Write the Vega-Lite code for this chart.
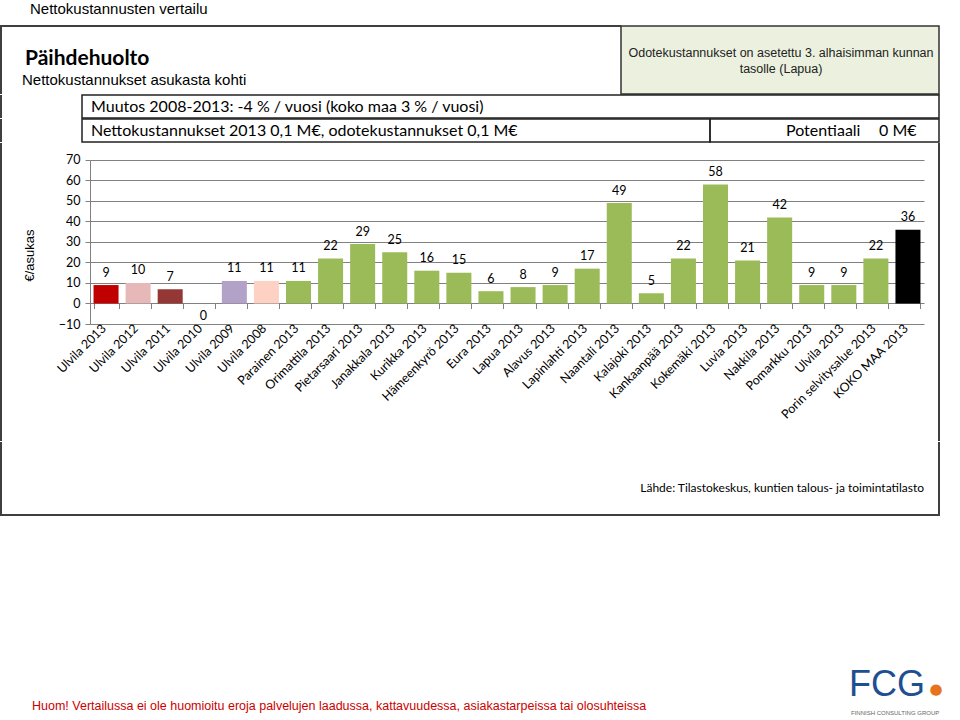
{
  "$schema": "https://vega.github.io/schema/vega-lite/v6.json",
  "background": "white",
  "padding": {"left": 0, "top": 2, "right": 0, "bottom": 0},
  "title": {"text": "Nettokustannusten vertailu", "anchor": "start", "dx": 30, "offset": -4, "baseline": "alphabetic", "font": "Liberation Sans", "fontSize": 15, "fontWeight": "normal", "color": "#000"},
  "config": {"view": {"stroke": null}, "font": "Lato"},
  "spacing": -5,
  "vconcat": [
    {
      "bounds": "flush", "spacing": 0,
      "hconcat": [
        {
          "width": 620, "height": 68,
          "view": {"stroke": "#3f3f3f", "strokeWidth": 2, "strokeDash": [620, 688, 68]},
          "data": {"values": [{"otsikko": "Päihdehuolto", "ala": "Nettokustannukset asukasta kohti"}]},
          "layer": [
            {"mark": {"type": "text", "align": "left", "baseline": "alphabetic", "dx": -286, "dy": 5, "font": "Lato", "fontSize": 21, "fontWeight": "bold", "color": "#000"}, "encoding": {"text": {"field": "otsikko"}}},
            {"mark": {"type": "text", "align": "left", "baseline": "alphabetic", "dx": -289, "dy": 25, "font": "Liberation Sans", "fontSize": 15, "color": "#000"}, "encoding": {"text": {"field": "ala"}}}
          ]
        },
        {
          "width": 318, "height": 68,
          "view": {"fill": "#ebf1de", "stroke": "#333333", "strokeWidth": 1.5},
          "data": {"values": [{"teksti": "Odotekustannukset on asetettu 3. alhaisimman kunnan\ntasolle (Lapua)"}]},
          "mark": {"type": "text", "align": "center", "baseline": "alphabetic", "lineBreak": "\n", "lineHeight": 16.5, "dx": 1, "dy": -3.5, "font": "Liberation Sans", "fontSize": 12.5, "color": "#222"},
          "encoding": {"text": {"field": "teksti"}}
        }
      ]
    },
    {
      "bounds": "flush", "spacing": 0,
      "hconcat": [
        {
          "width": 81, "height": 23,
          "view": {"stroke": "#3f3f3f", "strokeWidth": 2, "strokeDash": [0, 185, 23]},
          "data": {"values": [{}]},
          "mark": {"type": "text"},
          "encoding": {"text": {"value": ""}}
        },
        {
          "width": 857, "height": 23,
          "view": {"stroke": "#222", "strokeWidth": 1.5},
          "data": {"values": [{"teksti": "Muutos 2008-2013: -4 % / vuosi (koko maa 3 % / vuosi)"}]},
          "mark": {"type": "text", "align": "left", "baseline": "alphabetic", "dx": -419.5, "dy": 5.5, "font": "Lato", "fontSize": 16, "color": "#000"},
          "encoding": {"text": {"field": "teksti"}}
        }
      ]
    },
    {
      "bounds": "flush", "spacing": 0,
      "hconcat": [
        {
          "width": 81, "height": 23,
          "view": {"stroke": "#3f3f3f", "strokeWidth": 2, "strokeDash": [0, 185, 23]},
          "data": {"values": [{}]},
          "mark": {"type": "text"},
          "encoding": {"text": {"value": ""}}
        },
        {
          "width": 628, "height": 23,
          "view": {"stroke": "#222", "strokeWidth": 1.5},
          "data": {"values": [{"teksti": "Nettokustannukset 2013 0,1 M€, odotekustannukset 0,1 M€"}]},
          "mark": {"type": "text", "align": "left", "baseline": "alphabetic", "dx": -305, "dy": 5.5, "font": "Lato", "fontSize": 16, "color": "#000"},
          "encoding": {"text": {"field": "teksti"}}
        },
        {
          "width": 229, "height": 23,
          "view": {"stroke": "#222", "strokeWidth": 1.5},
          "data": {"values": [{"nimi": "Potentiaali", "arvo": "0 M€"}]},
          "layer": [
            {"mark": {"type": "text", "align": "left", "baseline": "alphabetic", "dx": -38.5, "dy": 5.5, "font": "Lato", "fontSize": 16, "color": "#000"}, "encoding": {"text": {"field": "nimi"}}},
            {"mark": {"type": "text", "align": "left", "baseline": "alphabetic", "dx": 54.5, "dy": 5.5, "font": "Lato", "fontSize": 16, "color": "#000"}, "encoding": {"text": {"field": "arvo"}}}
          ]
        }
      ]
    },
    {
      "bounds": "flush", "spacing": 0,
      "hconcat": [
        {
          "width": 89, "height": 298,
          "view": {"stroke": "#3f3f3f", "strokeWidth": 2, "strokeDash": [0, 476, 298]},
          "data": {"values": [{}]},
          "mark": {"type": "text"},
          "encoding": {"text": {"value": ""}}
        },
        {
          "width": 834, "height": 181,
          "data": {"values": [
            {"kunta": "Ulvila 2013", "ryhma": "Ulvila 2013", "arvo": 9},
            {"kunta": "Ulvila 2012", "ryhma": "Ulvila 2012", "arvo": 10},
            {"kunta": "Ulvila 2011", "ryhma": "Ulvila 2011", "arvo": 7},
            {"kunta": "Ulvila 2010", "ryhma": "Ulvila 2010", "arvo": 0},
            {"kunta": "Ulvila 2009", "ryhma": "Ulvila 2009", "arvo": 11},
            {"kunta": "Ulvila 2008", "ryhma": "Ulvila 2008", "arvo": 11},
            {"kunta": "Parainen 2013", "ryhma": "Vertailu", "arvo": 11},
            {"kunta": "Orimattila 2013", "ryhma": "Vertailu", "arvo": 22},
            {"kunta": "Pietarsaari 2013", "ryhma": "Vertailu", "arvo": 29},
            {"kunta": "Janakkala 2013", "ryhma": "Vertailu", "arvo": 25},
            {"kunta": "Kurikka 2013", "ryhma": "Vertailu", "arvo": 16},
            {"kunta": "Hämeenkyrö 2013", "ryhma": "Vertailu", "arvo": 15},
            {"kunta": "Eura 2013", "ryhma": "Vertailu", "arvo": 6},
            {"kunta": "Lapua 2013", "ryhma": "Vertailu", "arvo": 8},
            {"kunta": "Alavus 2013", "ryhma": "Vertailu", "arvo": 9},
            {"kunta": "Lapinlahti 2013", "ryhma": "Vertailu", "arvo": 17},
            {"kunta": "Naantali 2013", "ryhma": "Vertailu", "arvo": 49},
            {"kunta": "Kalajoki 2013", "ryhma": "Vertailu", "arvo": 5},
            {"kunta": "Kankaanpää 2013", "ryhma": "Vertailu", "arvo": 22},
            {"kunta": "Kokemäki 2013", "ryhma": "Vertailu", "arvo": 58},
            {"kunta": "Luvia 2013", "ryhma": "Vertailu", "arvo": 21},
            {"kunta": "Nakkila 2013", "ryhma": "Vertailu", "arvo": 42},
            {"kunta": "Pomarkku 2013", "ryhma": "Vertailu", "arvo": 9},
            {"kunta": "Ulvila 2013 ", "ryhma": "Vertailu", "arvo": 9},
            {"kunta": "Porin selvitysalue 2013", "ryhma": "Vertailu", "arvo": 22},
            {"kunta": "KOKO MAA 2013", "ryhma": "Koko maa", "arvo": 36}
          ]},
          "resolve": {"axis": {"x": "independent"}},
          "layer": [
            {
              "mark": {"type": "bar"},
              "encoding": {
                "x": {"field": "kunta", "type": "nominal", "sort": null,
                  "scale": {"domain": ["Ulvila 2013", "Ulvila 2012", "Ulvila 2011", "Ulvila 2010", "Ulvila 2009", "Ulvila 2008", "Parainen 2013", "Orimattila 2013", "Pietarsaari 2013", "Janakkala 2013", "Kurikka 2013", "Hämeenkyrö 2013", "Eura 2013", "Lapua 2013", "Alavus 2013", "Lapinlahti 2013", "Naantali 2013", "Kalajoki 2013", "Kankaanpää 2013", "Kokemäki 2013", "Luvia 2013", "Nakkila 2013", "Pomarkku 2013", "Ulvila 2013 ", "Porin selvitysalue 2013", "KOKO MAA 2013"], "paddingInner": 0.22, "paddingOuter": 0.11},
                  "axis": {"orient": "bottom", "title": null, "labelAngle": -45, "labelAlign": "right", "labelBaseline": "middle", "labelFont": "Lato", "labelFontSize": 12.5, "labelColor": "#000", "labelPadding": 2, "labelOffset": -2, "labelOverlap": false, "domain": false, "ticks": false, "grid": false, "labelExpr": "trim(datum.label)"}},
                "y": {"field": "arvo", "type": "quantitative",
                  "scale": {"domain": [-10, 78.29], "nice": false, "zero": false},
                  "axis": {"values": [-10, 0, 10, 20, 30, 40, 50, 60, 70], "tickCount": 12, "labelOverlap": false, "title": "€/asukas", "grid": true, "gridColor": "#808080", "gridWidth": 1, "domainColor": "#808080", "domainDash": [164, 40], "tickColor": "#808080", "tickSize": 5, "labelPadding": 5, "labelFont": "Lato", "labelFontSize": 12.5, "labelColor": "#000", "titleFont": "Liberation Sans", "titleFontSize": 13, "titleFontWeight": "normal", "titleColor": "#000", "titlePadding": 22, "titleY": 112}},
                "y2": {"datum": 0},
                "color": {"field": "ryhma", "type": "nominal", "legend": null,
                  "scale": {"domain": ["Ulvila 2013", "Ulvila 2012", "Ulvila 2011", "Ulvila 2010", "Ulvila 2009", "Ulvila 2008", "Vertailu", "Koko maa"], "range": ["#c00000", "#e6b9b8", "#953735", "#ffffff", "#b3a2c7", "#fdd2c4", "#9bbb59", "#000000"]}}
              }
            },
            {
              "transform": [{"filter": "datum.arvo > 0"}],
              "mark": {"type": "text", "baseline": "middle", "dy": -12.5, "font": "Lato", "fontSize": 12.5, "color": "#000"},
              "encoding": {
                "x": {"field": "kunta", "type": "nominal", "sort": null, "axis": null},
                "y": {"field": "arvo", "type": "quantitative"},
                "text": {"field": "arvo", "type": "quantitative"}
              }
            },
            {
              "transform": [{"filter": "datum.arvo == 0"}],
              "mark": {"type": "text", "baseline": "middle", "dx": 1, "dy": 13, "font": "Lato", "fontSize": 12.5, "color": "#000"},
              "encoding": {
                "x": {"field": "kunta", "type": "nominal", "sort": null,
                  "axis": {"orient": "bottom", "title": null, "labels": false, "domain": false, "ticks": true, "tickSize": 5, "tickColor": "#808080", "tickBand": "extent", "offset": -20.5, "grid": false}},
                "y": {"field": "arvo", "type": "quantitative"},
                "text": {"field": "arvo", "type": "quantitative"}
              }
            }
          ]
        },
        {
          "width": 15, "height": 298,
          "view": {"stroke": "#3f3f3f", "strokeWidth": 2, "strokeDash": [0, 15, 298, 313]},
          "data": {"values": [{}]},
          "mark": {"type": "text"},
          "encoding": {"text": {"value": ""}}
        }
      ]
    },
    {
      "width": 938, "height": 73,
      "view": {"stroke": "#3f3f3f", "strokeWidth": 2, "strokeDash": [0, 938, 1084]},
      "data": {"values": [{"teksti": "Lähde: Tilastokeskus, kuntien talous- ja toimintatilasto"}]},
      "mark": {"type": "text", "align": "right", "baseline": "alphabetic", "dx": 454, "dy": 13.5, "font": "Lato", "fontSize": 12, "color": "#000"},
      "encoding": {"text": {"field": "teksti"}}
    },
    {
      "width": 956, "height": 200,
      "view": {"stroke": "#ffffff", "strokeWidth": 2, "strokeDash": [0, 2312]},
      "data": {"values": [{"huom": "Huom! Vertailussa ei ole huomioitu eroja palvelujen laadussa, kattavuudessa, asiakastarpeissa tai olosuhteissa", "logo": "FCG", "piste": "●", "alaotsikko": "FINNISH CONSULTING GROUP"}]},
      "layer": [
        {"mark": {"type": "text", "align": "left", "baseline": "alphabetic", "dx": -447, "dy": 94, "font": "Liberation Sans", "fontSize": 12.5, "color": "#cc0000"}, "encoding": {"text": {"field": "huom"}}},
        {"mark": {"type": "text", "align": "left", "baseline": "alphabetic", "dx": 370, "dy": 80, "font": "Liberation Sans", "fontSize": 36, "color": "#1d4f91"}, "encoding": {"text": {"field": "logo"}}},
        {"mark": {"type": "text", "align": "center", "baseline": "middle", "dx": 457, "dy": 73, "font": "DejaVu Sans", "fontSize": 15, "color": "#e8731f"}, "encoding": {"text": {"field": "piste"}}},
        {"mark": {"type": "text", "align": "left", "baseline": "alphabetic", "dx": 372, "dy": 98.5, "font": "Liberation Sans", "fontSize": 6, "color": "#666666"}, "encoding": {"text": {"field": "alaotsikko"}}}
      ]
    }
  ]
}
